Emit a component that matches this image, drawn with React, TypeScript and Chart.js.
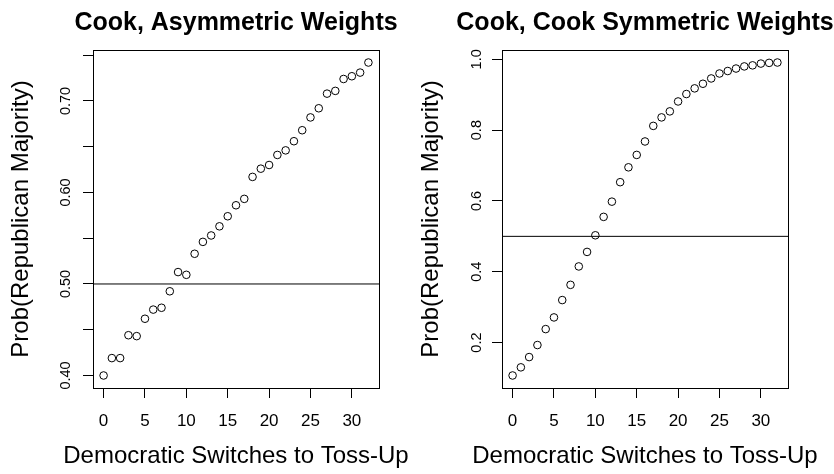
import React, { useEffect, useRef } from "react";
import { Chart, registerables } from "chart.js";

Chart.register(...registerables);

// ---------- data ----------
const switches = [0, 1, 2, 3, 4, 5, 6, 7, 8, 9, 10, 11, 12, 13, 14, 15, 16, 17, 18, 19, 20, 21, 22, 23, 24, 25, 26, 27, 28, 29, 30, 31, 32];

const asymmetricProb = [
  0.400, 0.419, 0.419, 0.444, 0.443, 0.462, 0.472, 0.474, 0.492, 0.513, 0.510,
  0.533, 0.546, 0.553, 0.563, 0.574, 0.586, 0.593, 0.617, 0.626, 0.630, 0.641,
  0.646, 0.656, 0.668, 0.682, 0.692, 0.708, 0.711, 0.724, 0.727, 0.731, 0.742,
];

const symmetricProb = [
  0.107, 0.130, 0.159, 0.193, 0.238, 0.271, 0.320, 0.363, 0.415, 0.456, 0.503,
  0.555, 0.598, 0.653, 0.695, 0.730, 0.768, 0.812, 0.836, 0.853, 0.881, 0.902,
  0.918, 0.931, 0.946, 0.960, 0.967, 0.974, 0.980, 0.983, 0.988, 0.990, 0.991,
];

const xTicks = [0, 5, 10, 15, 20, 25, 30];
const asymYTicks = [0.4, 0.45, 0.5, 0.55, 0.6, 0.65, 0.7, 0.75];
const asymYLabels = ["0.40", "", "0.50", "", "0.60", "", "0.70", ""];
const symYTicks = [0.2, 0.4, 0.6, 0.8, 1.0];
const symYLabels = ["0.2", "0.4", "0.6", "0.8", "1.0"];

const panelTitles = ["Cook, Asymmetric Weights", "Cook, Cook Symmetric Weights"];
const xAxisTitle = "Democratic Switches to Toss-Up";
const yAxisTitle = "Prob(Republican Majority)";
const majorityLevel = 0.5;

// ---------- helpers ----------
const FONT = "'Liberation Sans', Arial, Helvetica, sans-serif";

function rRange(vals: number[]): [number, number] {
  const mn = Math.min(...vals);
  const mx = Math.max(...vals);
  const pad = 0.04 * (mx - mn);
  return [mn - pad, mx + pad];
}

type PanelProps = {
  left: number;
  width: number;
  title: string;
  values: number[];
  yTicks: number[];
  yLabels: string[];
  yTickPad: number;
  yTitlePad: number;
};

// R-style frame, main title and x-axis label (drawn unconstrained in width)
const framePlugin = {
  id: "rframe",
  afterDraw(chart: any, _args: any, opts: any) {
    const { ctx, chartArea } = chart;
    const { left, top, right, bottom } = chartArea;
    const cx = (left + right) / 2;
    ctx.save();
    ctx.strokeStyle = "#000";
    ctx.lineWidth = 1;
    ctx.strokeRect(Math.round(left) + 0.5, Math.round(top) + 0.5, Math.round(right - left), Math.round(bottom - top));
    ctx.fillStyle = "#000";
    ctx.textAlign = "center";
    ctx.font = `bold 25px ${FONT}`;
    ctx.textBaseline = "alphabetic";
    ctx.fillText(opts.text, cx, 29.5);
    ctx.font = `24px ${FONT}`;
    ctx.textBaseline = "middle";
    ctx.fillText(opts.xTitle, cx, 456);
    ctx.restore();
  },
};

function Panel({ left, width, title, values, yTicks, yLabels, yTickPad, yTitlePad }: PanelProps) {
  const ref = useRef<HTMLCanvasElement | null>(null);

  useEffect(() => {
    if (!ref.current) return;
    const [xMin, xMax] = rRange(switches);
    const [yMin, yMax] = rRange(values);
    const points = switches.map((s, i) => ({ x: s, y: values[i] }));
    const chart = new Chart(ref.current, {
      type: "scatter",
      data: {
        datasets: [
          {
            type: "line",
            data: [
              { x: xMin, y: majorityLevel },
              { x: xMax, y: majorityLevel },
            ],
            borderColor: "#000",
            borderWidth: 1,
            pointRadius: 0,
            fill: false,
          } as any,
          {
            data: points,
            pointStyle: "circle",
            pointRadius: 3.8,
            borderWidth: 1,
            borderColor: "#000",
            backgroundColor: "rgba(0,0,0,0)",
          },
        ],
      },
      options: {
        responsive: false,
        animation: false,
        events: [],
        devicePixelRatio: 1,
        layout: { padding: { top: 50, left: 0, right: width - 379, bottom: 0 } },
        plugins: {
          legend: { display: false },
          tooltip: { enabled: false },
          title: { display: false },
          rframe: { text: title, xTitle: xAxisTitle },
        } as any,
        scales: {
          x: {
            type: "linear",
            min: xMin,
            max: xMax,
            afterBuildTicks: (scale: any) => {
              scale.ticks = xTicks.map((v) => ({ value: v }));
            },
            afterFit: (scale: any) => {
              scale.height = 86;
            },
            grid: {
              display: true,
              drawOnChartArea: false,
              drawTicks: true,
              tickLength: 10,
              color: "#000",
              lineWidth: 1,
            },
            border: { display: false },
            ticks: {
              autoSkip: false,
              maxRotation: 0,
              minRotation: 0,
              padding: 14.5,
              color: "#000",
              font: { family: FONT, size: 17, lineHeight: 1 },
              callback: (v: any) => String(v),
            },
            title: { display: false },
          },
          y: {
            type: "linear",
            min: yMin,
            max: yMax,
            afterBuildTicks: (scale: any) => {
              scale.ticks = yTicks.map((v) => ({ value: v }));
            },
            afterFit: (scale: any) => {
              scale.width = 93;
            },
            grid: {
              display: true,
              drawOnChartArea: false,
              drawTicks: true,
              tickLength: 10,
              color: "#000",
              lineWidth: 1,
            },
            border: { display: false },
            ticks: {
              autoSkip: false,
              minRotation: 90,
              maxRotation: 90,
              crossAlign: "center",
              padding: yTickPad,
              color: "#000",
              font: { family: FONT, size: 14.5, lineHeight: 1 },
              callback: (_v: any, i: number) => yLabels[i],
            },
            title: {
              display: true,
              text: yAxisTitle,
              color: "#000",
              font: { family: FONT, size: 24, lineHeight: 1 },
              padding: { top: yTitlePad, bottom: 0 },
            },
          },
        },
      },
      plugins: [framePlugin],
    });
    return () => chart.destroy();
  }, [left, width, title, values, yTicks, yLabels, yTickPad, yTitlePad]);

  return (
    <div style={{ position: "absolute", left, top: 0, width, height: 474 }}>
      <canvas ref={ref} width={width} height={474} style={{ display: "block" }} />
    </div>
  );
}

export default function App() {
  return (
    <div style={{ position: "fixed", left: 0, top: 0, width: 834, height: 474, background: "#fff", overflow: "hidden" }}>
      <Panel left={0} width={417} title={panelTitles[0]} values={asymmetricProb} yTicks={asymYTicks} yLabels={asymYLabels} yTickPad={3} yTitlePad={9.5} />
      <Panel left={409} width={425} title={panelTitles[1]} values={symmetricProb} yTicks={symYTicks} yLabels={symYLabels} yTickPad={5} yTitlePad={10.5} />
    </div>
  );
}
